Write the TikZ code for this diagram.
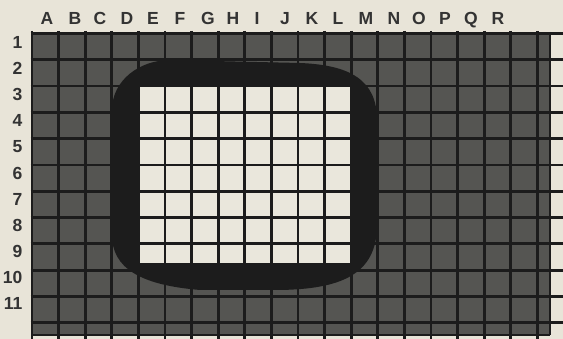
\documentclass[tikz,border=0pt]{standalone}
\usepackage{fontspec}
\setmainfont{Liberation Sans}
\definecolor{paper}{HTML}{E8E4D8}
\definecolor{screen}{HTML}{EAE7DC}
\definecolor{halftone}{HTML}{555552}
\definecolor{ink}{HTML}{1C1C1C}
\begin{document}
\begin{tikzpicture}[x=1pt,y=-1pt,
  lbl/.style={font=\fontsize{17.5}{19}\selectfont\bfseries, text=ink!90, inner sep=0pt},
  gridline/.style={line width=2.8pt, draw=ink},
  edgeline/.style={line width=1.6pt, draw=ink}]
\useasboundingbox (0,0) rectangle (563,339);
\fill[paper] (0,0) rectangle (563,339);
% grey halftone field
\fill[halftone] (31,32) rectangle (550,335);
% black TV screen surround
\fill[ink] (112,110) -- (112,235)
  .. controls (112,268) and (140,285) .. (200,290)
  -- (280,290)
  .. controls (340,289) and (377,275) .. (377,225)
  -- (377,120)
  .. controls (377,80) and (350,65) .. (300,63)
  -- (170,60)
  .. controls (140,60) and (112,80) .. (112,110) -- cycle;
% light screen area
\fill[screen] (138.4,86.1) rectangle (351.2,263);
% grid lines
\foreach \k in {0,...,19}
  \draw[gridline] ({32+26.6*\k},31) -- ({32+26.6*\k},339);
\foreach \k in {0,...,11}
  \draw[gridline] (30.7,{33.5+26.3*\k}) -- (563,{33.5+26.3*\k});
\draw[edgeline] (31,335) -- (550,335);
\draw[edgeline] (550,32) -- (550,335);
% column letters
\foreach \l/\x in {A/47,B/75,C/100,D/127,E/153,F/180,G/208,H/233,I/257,J/285,K/312,L/338,M/366,N/394,O/419,P/445,Q/471,R/498}
  \node[lbl, anchor=base] (col\l) at (\x,25) {\l};
% row numbers
\foreach \n in {1,...,11}
  \node[lbl, anchor=base east] (row\n) at (22.5,{48.6+26.1*(\n-1)}) {\n};
\end{tikzpicture}
\end{document}
